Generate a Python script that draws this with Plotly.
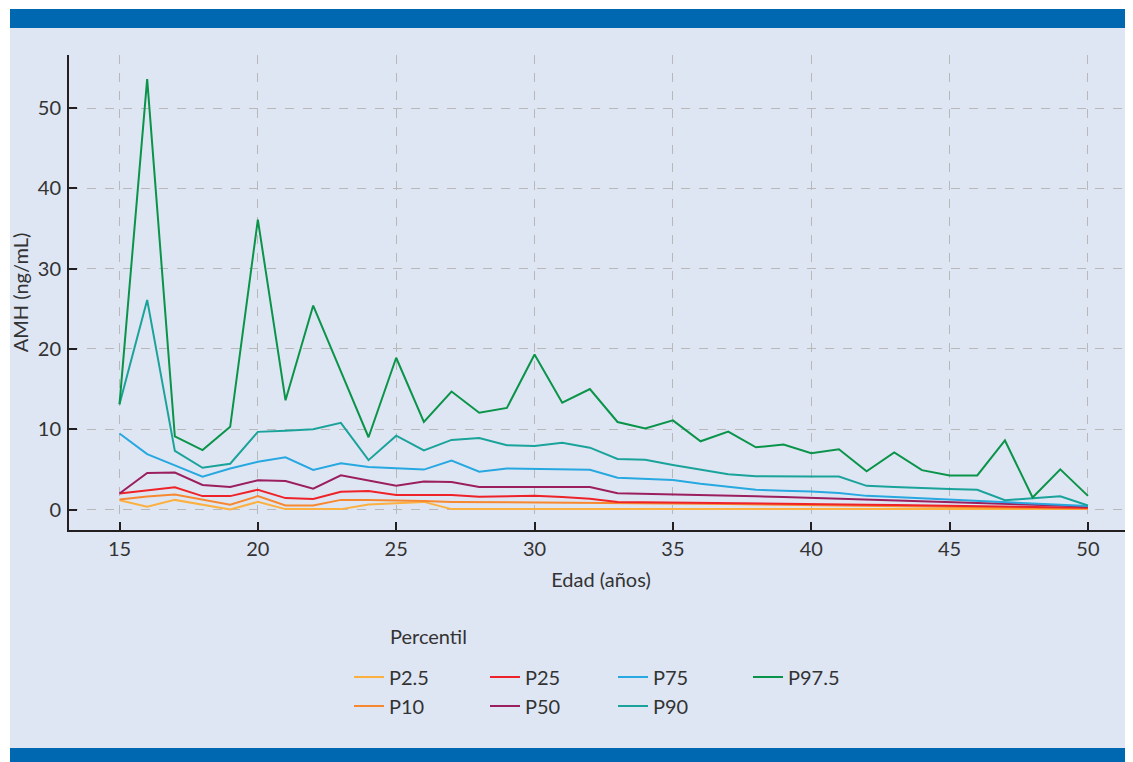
import plotly.graph_objects as go

ages = list(range(15, 51))

p2_5 = [1.15, 0.35, 1.2, 0.6, 0.0, 0.95, 0.05, 0.05, 0.05, 0.62, 0.75, 0.95, 0.05, 0.05,
        0.05, 0.05, 0.05, 0.05, 0.05, 0.05, 0.05, 0.05, 0.05, 0.05, 0.05, 0.05, 0.05, 0.05,
        0.05, 0.05, 0.05, 0.05, 0.05, 0.05, 0.05, 0.05]
p10 = [1.25, 1.63, 1.88, 1.25, 0.59, 1.67, 0.5, 0.5, 1.2, 1.2, 1.17, 1.05, 0.95, 0.93,
       0.92, 0.9, 0.9, 0.88, 0.85, 0.8, 0.75, 0.72, 0.68, 0.64, 0.6, 0.56, 0.52, 0.48,
       0.44, 0.4, 0.36, 0.32, 0.27, 0.22, 0.17, 0.12]
p25 = [2.0, 2.38, 2.76, 1.67, 1.67, 2.47, 1.42, 1.3, 2.2, 2.3, 1.8, 1.8, 1.8, 1.6,
       1.62, 1.7, 1.55, 1.35, 0.95, 0.92, 0.88, 0.84, 0.8, 0.76, 0.72, 0.68, 0.64, 0.6,
       0.55, 0.5, 0.46, 0.42, 0.37, 0.32, 0.27, 0.22]
p50 = [2.0, 4.56, 4.6, 3.05, 2.8, 3.64, 3.56, 2.6, 4.27, 3.64, 2.97, 3.5, 3.42, 2.8,
       2.8, 2.8, 2.8, 2.8, 2.04, 1.98, 1.92, 1.85, 1.75, 1.65, 1.55, 1.45, 1.35, 1.25,
       1.15, 1.05, 0.95, 0.85, 0.75, 0.62, 0.5, 0.35]
p75 = [9.46, 6.9, 5.5, 4.1, 5.1, 5.94, 6.5, 4.94, 5.77, 5.3, 5.15, 4.97, 6.1, 4.7,
       5.1, 5.05, 5.0, 4.95, 3.96, 3.82, 3.67, 3.2, 2.8, 2.45, 2.35, 2.25, 2.05, 1.7,
       1.55, 1.4, 1.25, 1.1, 0.95, 0.8, 0.65, 0.45]
p90 = [13.1, 26.1, 7.3, 5.2, 5.7, 9.67, 9.8, 10.0, 10.8, 6.15, 9.2, 7.35, 8.67, 8.9,
       8.0, 7.9, 8.3, 7.7, 6.3, 6.2, 5.55, 4.95, 4.4, 4.15, 4.1, 4.1, 4.1, 2.95,
       2.8, 2.65, 2.55, 2.45, 1.15, 1.4, 1.65, 0.5]
p97_5 = [13.1, 53.6, 9.1, 7.4, 10.3, 36.1, 13.6, 25.4, 17.2, 9.0, 18.9, 10.9, 14.7, 12.05,
         12.65, 19.3, 13.3, 15.0, 10.9, 10.1, 11.1, 8.5, 9.7, 7.75, 8.1, 7.0, 7.5, 4.75,
         7.1, 4.9, 4.25, 4.25, 8.6, 1.5, 5.0, 1.7]

series_names = ["P2.5", "P10", "P25", "P50", "P75", "P90", "P97.5"]
series_values = [p2_5, p10, p25, p50, p75, p90, p97_5]
colors = ["#fbb040", "#f7882f", "#ee2329", "#9b1f5f", "#27a8e0", "#1aa39a", "#0a944a"]

x_ticks = [15, 20, 25, 30, 35, 40, 45, 50]
y_ticks = [0, 10, 20, 30, 40, 50]

FONT = "Lato, 'Open Sans', sans-serif"
TXT = "#333333"
FS = 20

# page offset (body margin) compensation
OFF = 8
W, H = 1133 - OFF, 762 - OFF
ML, MR, MT, MB = 69 - OFF, 0, 55 - OFF, 762 - 530
PW, PH = W - ML - MR, H - MT - MB


def px_x(px):
    return (px - OFF - ML) / PW


def px_y(py):
    return (H - MB - (py - OFF)) / PH


# legend slot positions (page px): x of legend box, y of row centre
leg_x = [349, 349, 485, 485, 613, 613, 748]
leg_y = [677, 706, 677, 706, 677, 706, 677]
legend_ids = ["legend", "legend2", "legend3", "legend4", "legend5", "legend6", "legend7"]

fig = go.Figure()
for name, vals, col, lg in zip(series_names, series_values, colors, legend_ids):
    fig.add_trace(go.Scatter(x=ages, y=vals, mode="lines", name=name, showlegend=True,
                             line=dict(color=col, width=2), legend=lg))

panel = "#dfe6f3"
band = "#0067b1"
shapes = [
    dict(type="rect", xref="paper", yref="paper", x0=px_x(10), x1=px_x(1145),
         y0=px_y(775), y1=px_y(28), fillcolor=panel, line=dict(width=0), layer="below"),
    dict(type="rect", xref="paper", yref="paper", x0=px_x(10), x1=px_x(1145),
         y0=px_y(28), y1=px_y(9), fillcolor=band, line=dict(width=0), layer="below"),
    dict(type="rect", xref="paper", yref="paper", x0=px_x(10), x1=px_x(1145),
         y0=px_y(775), y1=px_y(748), fillcolor=band, line=dict(width=0), layer="below"),
]

layout_legends = {}
for lg, lx, ly in zip(legend_ids, leg_x, leg_y):
    layout_legends[lg] = dict(orientation="v", yanchor="middle", xanchor="left",
                              x=px_x(lx), y=px_y(ly), bgcolor="rgba(0,0,0,0)",
                              font=dict(family=FONT, size=FS, color=TXT), itemwidth=30,
                              visible=True)

fig.update_layout(
    width=W, height=H,
    showlegend=True,
    margin=dict(l=ML, r=MR, t=MT, b=MB, pad=0),
    paper_bgcolor="white",
    plot_bgcolor=panel,
    shapes=shapes,
    font=dict(family=FONT, color=TXT, size=FS),
    xaxis=dict(range=[15 - 50.5 / 27.67, 15 + (1133 - 119.5) / 27.67],
               tickvals=x_ticks, ticks="inside", ticklen=8, tickwidth=2,
               tickcolor="#231f20", showline=True, linewidth=2, linecolor="#231f20",
               showgrid=True, gridcolor="#b8b8b8", griddash="dash", gridwidth=1,
               zeroline=False, tickfont=dict(family=FONT, size=FS, color=TXT),
               title=dict(text="Edad (años)", font=dict(family=FONT, size=FS, color=TXT),
                          standoff=14)),
    yaxis=dict(range=[-2.55, 56.6], tickvals=y_ticks, ticks="inside", ticklen=8,
               tickwidth=2, tickcolor="#231f20", showline=True, linewidth=2,
               linecolor="#231f20", showgrid=True, gridcolor="#b8b8b8", griddash="dash",
               gridwidth=1, zeroline=False, tickfont=dict(family=FONT, size=FS, color=TXT),
               ticklabelstandoff=2,
               title=dict(text="AMH (ng/mL)", font=dict(family=FONT, size=FS, color=TXT),
                          standoff=8)),
    annotations=[dict(text="Percentil", xref="paper", yref="paper", x=px_x(388),
                      y=px_y(636), xanchor="left", yanchor="middle", showarrow=False,
                      font=dict(family=FONT, size=FS, color=TXT))],
    **layout_legends,
)

fig.write_html("out.html")
